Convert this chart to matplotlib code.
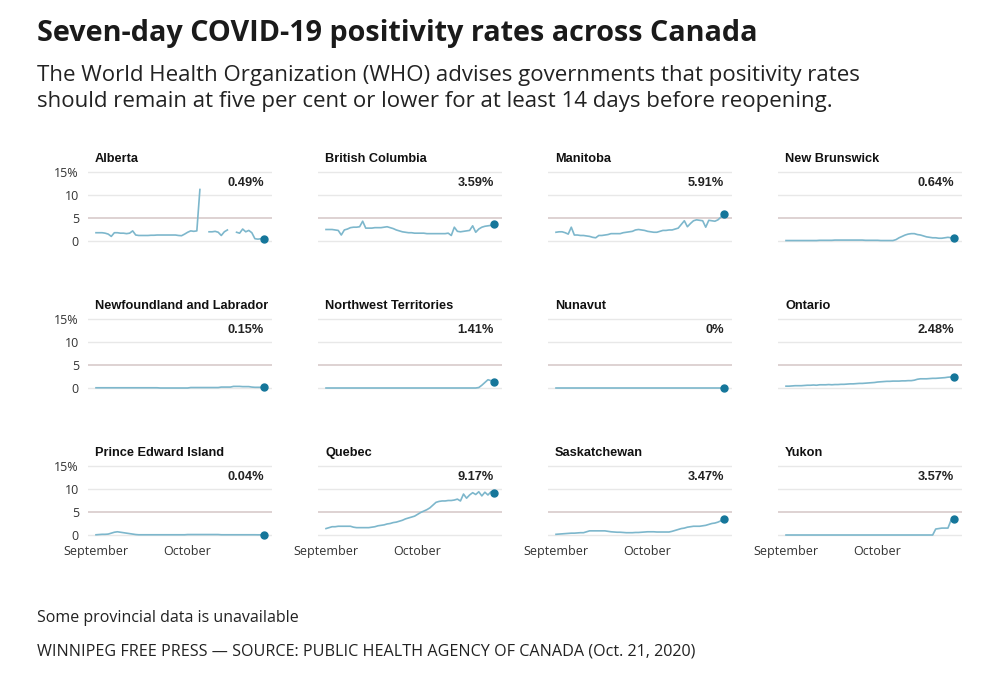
import matplotlib
matplotlib.use("Agg")
import matplotlib.pyplot as plt
import numpy as np

plt.rcParams['font.family'] = ['Open Sans', 'DejaVu Sans']

nan = np.nan

# days since Sept. 1, 2020
days = np.arange(56)
month_ticks = [0, 30]
month_labels = ['September', 'October']

provinces = [
    'Alberta', 'British Columbia', 'Manitoba', 'New Brunswick',
    'Newfoundland and Labrador', 'Northwest Territories', 'Nunavut', 'Ontario',
    'Prince Edward Island', 'Quebec', 'Saskatchewan', 'Yukon',
]
latest_labels = [
    '0.49%', '3.59%', '5.91%', '0.64%',
    '0.15%', '1.41%', '0%', '2.48%',
    '0.04%', '9.17%', '3.47%', '3.57%',
]

alberta = [
    1.8, 1.8, 1.8, 1.7, 1.5, 1.0, 1.8, 1.8,
    1.7, 1.7, 1.6, 1.7, 2.2, 1.3, 1.2, 1.2,
    1.2, 1.2, 1.25, 1.25, 1.3, 1.3, 1.3, 1.3,
    1.3, 1.3, 1.3, 1.2, 1.15, 1.5, 1.9, 2.2,
    2.1, 2.2, 11.2, nan, nan, 2.0, 2.0, 2.1,
    1.9, 1.2, 2.0, 2.4, nan, nan, 1.9, 1.7,
    2.6, 2.0, 2.3, 1.8, 0.5, 0.4, 0.5, 0.49,
]
british_columbia = [
    2.5, 2.5, 2.5, 2.4, 2.3, 1.3, 2.4, 2.6,
    2.9, 3.0, 3.0, 3.1, 4.3, 2.8, 2.8, 2.8,
    2.9, 2.9, 2.9, 3.0, 3.1, 2.9, 2.7, 2.4,
    2.2, 2.0, 1.9, 1.8, 1.8, 1.7, 1.7, 1.7,
    1.7, 1.6, 1.6, 1.6, 1.6, 1.6, 1.6, 1.6,
    1.7, 1.2, 3.0, 2.1, 2.0, 2.1, 2.2, 2.3,
    3.3, 1.9, 2.6, 3.0, 3.2, 3.3, 3.4, 3.59,
]
manitoba = [
    1.9, 2.0, 2.0, 1.8, 1.5, 3.0, 1.3, 1.3,
    1.2, 1.2, 1.1, 1.0, 0.8, 0.7, 1.2, 1.2,
    1.3, 1.4, 1.6, 1.6, 1.6, 1.6, 1.8, 1.9,
    2.0, 2.1, 2.4, 2.5, 2.4, 2.3, 2.1, 2.0,
    1.9, 1.9, 2.1, 2.3, 2.3, 2.4, 2.4, 2.6,
    2.8, 3.6, 4.4, 3.1, 3.8, 4.4, 4.6, 4.5,
    4.4, 3.0, 4.5, 4.4, 4.3, 4.6, 5.2, 5.91,
]
new_brunswick = [
    0.1, 0.1, 0.1, 0.1, 0.1, 0.1, 0.1, 0.1,
    0.1, 0.1, 0.1, 0.15, 0.15, 0.15, 0.15, 0.15,
    0.2, 0.2, 0.2, 0.2, 0.2, 0.2, 0.2, 0.2,
    0.2, 0.2, 0.15, 0.15, 0.15, 0.15, 0.15, 0.1,
    0.1, 0.1, 0.1, 0.1, 0.3, 0.7, 1.0, 1.3,
    1.5, 1.6, 1.6, 1.4, 1.3, 1.1, 0.9, 0.8,
    0.7, 0.7, 0.6, 0.6, 0.7, 0.8, 0.7, 0.64,
]
newfoundland = [
    0.05, 0.05, 0.05, 0.05, 0.05, 0.05, 0.05, 0.05,
    0.05, 0.05, 0.05, 0.05, 0.05, 0.05, 0.05, 0.05,
    0.05, 0.05, 0.05, 0.05, 0.05, 0.0, 0.0, 0.0,
    0.0, 0.0, 0.0, 0.0, 0.0, 0.0, 0.0, 0.1,
    0.1, 0.1, 0.1, 0.1, 0.1, 0.1, 0.1, 0.1,
    0.1, 0.2, 0.2, 0.2, 0.2, 0.35, 0.35, 0.35,
    0.3, 0.3, 0.3, 0.2, 0.15, 0.15, 0.15, 0.15,
]
northwest_territories = [
    0, 0, 0, 0, 0, 0, 0, 0,
    0, 0, 0, 0, 0, 0, 0, 0,
    0, 0, 0, 0, 0, 0, 0, 0,
    0, 0, 0, 0, 0, 0, 0, 0,
    0, 0, 0, 0, 0, 0, 0, 0,
    0, 0, 0, 0, 0, 0, 0, 0,
    0.0, 0.0, 0.1, 0.6, 1.2, 1.8, 1.6, 1.41,
]
nunavut = [
    0, 0, 0, 0, 0, 0, 0, 0,
    0, 0, 0, 0, 0, 0, 0, 0,
    0, 0, 0, 0, 0, 0, 0, 0,
    0, 0, 0, 0, 0, 0, 0, 0,
    0, 0, 0, 0, 0, 0, 0, 0,
    0, 0, 0, 0, 0, 0, 0, 0,
    0, 0, 0, 0, 0, 0, 0, 0,
]
ontario = [
    0.4, 0.4, 0.45, 0.5, 0.5, 0.5, 0.55, 0.6,
    0.6, 0.65, 0.6, 0.7, 0.7, 0.7, 0.75, 0.7,
    0.75, 0.75, 0.8, 0.8, 0.85, 0.9, 0.9, 0.95,
    1.0, 1.0, 1.05, 1.1, 1.15, 1.2, 1.3, 1.35,
    1.4, 1.45, 1.45, 1.5, 1.5, 1.5, 1.55, 1.55,
    1.6, 1.6, 1.7, 1.9, 2.0, 2.0, 2.0, 2.05,
    2.1, 2.1, 2.15, 2.2, 2.25, 2.35, 2.4, 2.48,
]
pei = [
    0.05, 0.1, 0.15, 0.15, 0.2, 0.4, 0.6, 0.7,
    0.6, 0.5, 0.4, 0.3, 0.2, 0.1, 0.05, 0.05,
    0.05, 0.05, 0.05, 0.05, 0.05, 0.05, 0.05, 0.05,
    0.05, 0.05, 0.05, 0.05, 0.05, 0.05, 0.1, 0.1,
    0.1, 0.1, 0.1, 0.1, 0.1, 0.1, 0.1, 0.1,
    0.1, 0.05, 0.05, 0.05, 0.05, 0.05, 0.05, 0.05,
    0.05, 0.05, 0.05, 0.05, 0.05, 0.04, 0.04, 0.04,
]
quebec = [
    1.4, 1.6, 1.8, 1.8, 1.9, 1.9, 1.9, 1.9,
    1.9, 1.7, 1.6, 1.6, 1.6, 1.6, 1.6, 1.7,
    1.8, 2.0, 2.1, 2.2, 2.4, 2.5, 2.7, 2.8,
    3.0, 3.2, 3.5, 3.7, 3.9, 4.1, 4.5, 4.9,
    5.2, 5.5, 5.9, 6.5, 7.1, 7.3, 7.4, 7.4,
    7.5, 7.5, 7.6, 7.8, 7.4, 8.9, 8.0, 8.7,
    9.2, 8.8, 9.4, 8.5, 9.3, 8.7, 9.4, 9.17,
]
saskatchewan = [
    0.15, 0.2, 0.25, 0.3, 0.35, 0.4, 0.4, 0.45,
    0.5, 0.5, 0.7, 0.9, 0.9, 0.9, 0.9, 0.9,
    0.9, 0.8, 0.7, 0.65, 0.6, 0.6, 0.55, 0.5,
    0.5, 0.5, 0.55, 0.55, 0.6, 0.65, 0.7, 0.7,
    0.7, 0.65, 0.65, 0.65, 0.65, 0.65, 0.8, 1.0,
    1.2, 1.4, 1.5, 1.7, 1.8, 1.9, 1.9, 1.9,
    2.0, 2.1, 2.3, 2.5, 2.6, 2.8, 3.1, 3.47,
]
yukon = [
    0, 0, 0, 0, 0, 0, 0, 0,
    0, 0, 0, 0, 0, 0, 0, 0,
    0, 0, 0, 0, 0, 0, 0, 0,
    0, 0, 0, 0, 0, 0, 0, 0,
    0, 0, 0, 0, 0, 0, 0, 0,
    0, 0, 0, 0, 0, 0, 0, 0,
    0.0, 1.3, 1.4, 1.5, 1.5, 1.5, 3.2, 3.57,
]

series = [
    alberta, british_columbia, manitoba, new_brunswick,
    newfoundland, northwest_territories, nunavut, ontario,
    pei, quebec, saskatchewan, yukon,
]

FIG_W, FIG_H = 1000, 692
LINE_COLOR = '#7db7cc'
DOT_COLOR = '#15769a'
GRID_COLOR = '#e8e8e8'
FIVE_COLOR = '#d4c6c6'
TEXT_COLOR = '#222222'
PANEL_FONT = ['Liberation Sans', 'DejaVu Sans']

# panel geometry in pixels
col_lefts = [88, 318, 548, 778]
row_tops = [169.7, 316.7, 463.7]
panel_w = 184
panel_h = 78.2


def px_box(left, top, width, height):
    return [left / FIG_W, 1 - (top + height) / FIG_H, width / FIG_W, height / FIG_H]


def draw_panel(ax, name, values, label, show_y, show_x):
    values = np.array(values, dtype=float)
    ax.set_xlim(-2.62, 57.6)
    ax.set_ylim(-1.5, 15.5)

    for v in [0, 10, 15]:
        ax.axhline(v, color=GRID_COLOR, lw=1.0, zorder=1)
    ax.axhline(5, color=FIVE_COLOR, lw=1.1, zorder=1)

    ax.plot(days, values, color=LINE_COLOR, lw=1.2, zorder=3, solid_joinstyle='round')
    ax.plot(days[-1], values[-1], 'o', color=DOT_COLOR, markersize=5, zorder=4)

    ax.text(-0.3, 17.8, name, family=PANEL_FONT, fontweight='bold', fontsize=9.2,
            color='#111111', ha='left', va='center', clip_on=False)
    ax.text(55, 12.6, label, family=PANEL_FONT, fontweight='bold', fontsize=9.2,
            color=TEXT_COLOR, ha='right', va='center')

    for s in ax.spines.values():
        s.set_visible(False)

    ax.set_yticks([0, 5, 10, 15])
    if show_y:
        ax.set_yticklabels(['0', '5', '10', '15%'])
    else:
        ax.set_yticklabels([])
    ax.set_xticks(month_ticks)
    if show_x:
        ax.set_xticklabels(month_labels)
    else:
        ax.set_xticklabels([])
    ax.tick_params(length=0, labelsize=9, labelcolor='#333333')
    ax.tick_params(axis='y', pad=6.5)
    ax.tick_params(axis='x', pad=2)
    ax.patch.set_visible(False)


fig = plt.figure(figsize=(FIG_W / 100, FIG_H / 100), dpi=100)

for i, (name, values, label) in enumerate(zip(provinces, series, latest_labels)):
    row, col = divmod(i, 4)
    ax = fig.add_axes(px_box(col_lefts[col], row_tops[row], panel_w, panel_h))
    draw_panel(ax, name, values, label, show_y=(col == 0), show_x=(row == 2))

# Titles and notes
fig.text(37 / FIG_W, 1 - 34 / FIG_H, 'Seven-day COVID-19 positivity rates across Canada',
         fontsize=20.7, fontweight='bold', color='#1a1a1a', ha='left', va='center')
fig.text(37 / FIG_W, 1 - 75 / FIG_H,
         'The World Health Organization (WHO) advises governments that positivity rates',
         fontsize=16, color=TEXT_COLOR, ha='left', va='center')
fig.text(37 / FIG_W, 1 - 102 / FIG_H,
         'should remain at five per cent or lower for at least 14 days before reopening.',
         fontsize=16, color=TEXT_COLOR, ha='left', va='center')
fig.text(37 / FIG_W, 1 - 618 / FIG_H, 'Some provincial data is unavailable',
         fontsize=11.5, color=TEXT_COLOR, ha='left', va='center')
fig.text(37 / FIG_W, 1 - 652 / FIG_H,
         'WINNIPEG FREE PRESS \u2014 SOURCE: PUBLIC HEALTH AGENCY OF CANADA (Oct. 21, 2020)',
         fontsize=11.6, color=TEXT_COLOR, ha='left', va='center')

fig.savefig('out.png', dpi=100, facecolor='white')
